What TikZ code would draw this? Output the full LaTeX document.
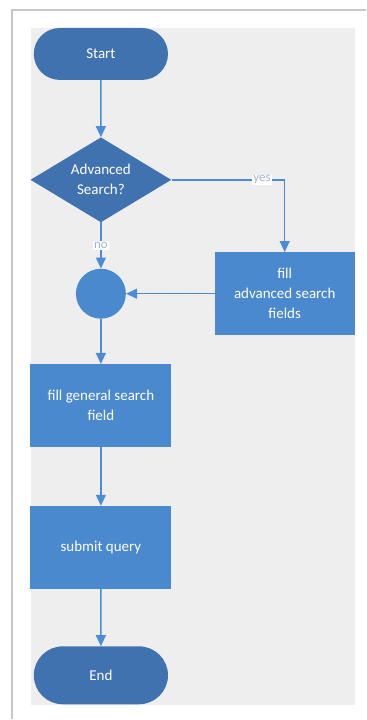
\documentclass[tikz,border=0pt]{standalone}
\usepackage{fontspec}
\setmainfont{Carlito}
\usetikzlibrary{shapes.geometric,shapes.misc,positioning,arrows.meta}

\definecolor{termblue}{RGB}{64,114,176}
\definecolor{procblue}{RGB}{74,137,206}
\definecolor{flowblue}{RGB}{76,140,214}
\definecolor{panelgray}{RGB}{238,238,238}
\definecolor{framegray}{RGB}{200,200,200}
\definecolor{labelgray}{RGB}{160,180,210}

\begin{document}
\begin{tikzpicture}[
x=1pt,y=-1pt,
term/.style={
  rounded rectangle,
  fill=termblue,
  text=white,
  minimum width=141pt,
  minimum height=52pt
  },
decision/.style={
  diamond,
  fill=termblue,
  text=white,
  align=center,
  inner sep=0pt,
  aspect=1.66,
  minimum width=141pt,
  minimum height=85pt
  },
proc/.style={
  rectangle,
  fill=procblue,
  text=white,
  align=center,
  minimum width=141pt,
  minimum height=83pt
  },
joint/.style={
  circle,
  fill=procblue,
  minimum size=50pt
  },
flowlabel/.style={
  fill=white,
  text=labelgray,
  inner sep=1pt,
  font=\fontsize{13}{14}\selectfont
  },
flow/.style={
  ->,
  draw=flowblue,
  line width=1.4pt
  },
>={Triangle[width=10pt,length=11pt]},
font=\fontsize{15}{20}\selectfont
]

% page and panel
\fill[white] (0,0) rectangle (366,720);
\draw[framegray,line width=1.5pt] (12,720) -- (12,10) -- (366,10);
\fill[panelgray] (31,28) rectangle (355,706);

\node[term] (start) at (101,54) {Start};
\node[decision] (adv) at (101,180) {Advanced\\Search?};
\node[joint] (merge) at (101,294) {};
\node[proc,minimum width=140pt] (advfill) at (285,294) {fill\\advanced search\\fields};
\node[proc] (genfill) at (101,406) {fill general search\\field};
\node[proc] (submit) at (101,548) {submit query};
\node[term,minimum height=58pt] (end) at (101,676) {End};

\draw[flow] (start) -- (adv);
\draw[flow] (adv.east) -| node[flowlabel,pos=0.4] {yes} (advfill.north);
\draw[flow] (adv.south) -- node[flowlabel] {no} (merge.north);
\draw[flow] (advfill) -- (merge);
\draw[flow] (merge) -- (genfill);
\draw[flow] (genfill) -- (submit);
\draw[flow] (submit) -- (end);
\end{tikzpicture}
\end{document}
